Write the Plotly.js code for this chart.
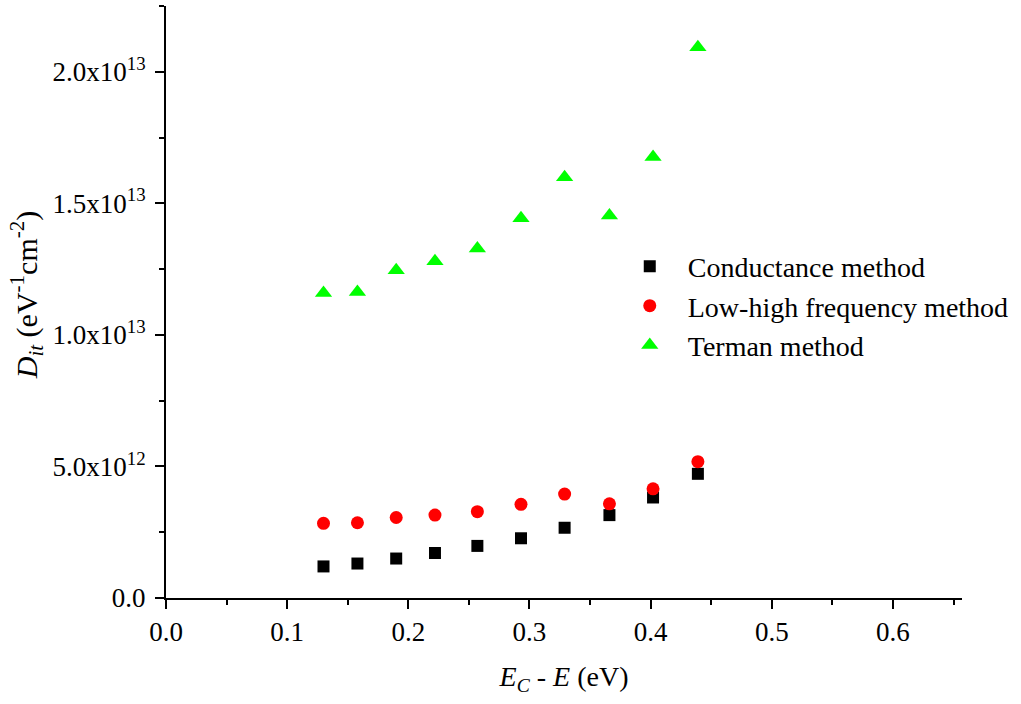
<!DOCTYPE html>
<html>
<head>
<meta charset="utf-8">
<script src="https://cdn.plot.ly/plotly-3.0.1.min.js"></script>
<style>html,body{margin:0;padding:0;background:#fff;}#chart{width:1021px;height:704px;}</style>
</head>
<body>
<div id="chart"></div>
<script>
var energy = [0.130, 0.158, 0.190, 0.222, 0.257, 0.293, 0.329, 0.366, 0.402, 0.439];
var conductance = [1.20e12, 1.31e12, 1.50e12, 1.71e12, 1.98e12, 2.27e12, 2.67e12, 3.15e12, 3.82e12, 4.72e12];
var lowHigh = [2.84e12, 2.86e12, 3.06e12, 3.15e12, 3.28e12, 3.56e12, 3.95e12, 3.58e12, 4.15e12, 5.18e12];
var terman = [1.159e13, 1.163e13, 1.246e13, 1.280e13, 1.328e13, 1.443e13, 1.599e13, 1.454e13, 1.676e13, 2.093e13];
var seriesNames = ["Conductance method", "Low-high frequency method", "Terman method"];
var yTickVals = [0, 5e12, 1e13, 1.5e13, 2e13];
var yTickText = ["0.0", "5.0x10<sup>12</sup>", "1.0x10<sup>13</sup>", "1.5x10<sup>13</sup>", "2.0x10<sup>13</sup>"];
var xTickVals = [0, 0.1, 0.2, 0.3, 0.4, 0.5, 0.6];
var xTickText = ["0.0", "0.1", "0.2", "0.3", "0.4", "0.5", "0.6"];

var font = "Liberation Serif, Times New Roman, serif";
var traces = [
  {x: energy, y: conductance, name: seriesNames[0], mode: "markers", type: "scatter",
   marker: {symbol: "square", size: 12, color: "#000000"}},
  {x: energy, y: lowHigh, name: seriesNames[1], mode: "markers", type: "scatter",
   marker: {symbol: "circle", size: 13, color: "#ff0000"}},
  {x: energy, y: terman, name: seriesNames[2], mode: "markers", type: "scatter",
   marker: {symbol: "triangle-up", size: 15, color: "#00ff00"}}
];
var layout = {
  width: 1021, height: 704,
  margin: {l: 166, r: 59, t: 6, b: 106, pad: 0},
  paper_bgcolor: "#ffffff", plot_bgcolor: "#ffffff",
  font: {family: font, size: 28, color: "#000"},
  showlegend: true,
  legend: {x: 0.560, y: 0.602, xanchor: "left", yanchor: "top", bgcolor: "rgba(0,0,0,0)",
           itemwidth: 66, font: {family: font, size: 28, color: "#000"}},
  xaxis: {
    range: [0, 0.657], showgrid: false, zeroline: false,
    showline: true, linecolor: "#000", linewidth: 2,
    ticks: "outside", ticklen: 9, tickwidth: 2, tickcolor: "#000",
    tickmode: "array", tickvals: xTickVals, ticktext: xTickText,
    tickfont: {family: font, size: 27, color: "#000"},
    minor: {tickmode: "linear", tick0: 0, dtick: 0.05, ticks: "outside", ticklen: 5, tickwidth: 2, tickcolor: "#000", showgrid: false},
    title: {text: "<i>E</i><sub><i>C</i></sub> - <i>E</i> (eV)", font: {family: font, size: 28, color: "#000"}, standoff: 20}
  },
  yaxis: {
    range: [0, 2.25e13], showgrid: false, zeroline: false,
    showline: true, linecolor: "#000", linewidth: 2,
    ticks: "outside", ticklen: 9, tickwidth: 2, tickcolor: "#000", ticklabelstandoff: 4,
    tickmode: "array", tickvals: yTickVals, ticktext: yTickText,
    tickfont: {family: font, size: 27, color: "#000"},
    minor: {tickmode: "linear", tick0: 0, dtick: 2.5e12, ticks: "outside", ticklen: 5, tickwidth: 2, tickcolor: "#000", showgrid: false},
    title: {text: "&nbsp;&nbsp;<i>D</i><sub><i>it</i></sub> (eV<sup>-1</sup>cm<sup>-2</sup>)", font: {family: font, size: 30, color: "#000"}, standoff: 6}
  }
};
Plotly.newPlot("chart", traces, layout, {staticPlot: true, displayModeBar: false});
</script>
</body>
</html>
